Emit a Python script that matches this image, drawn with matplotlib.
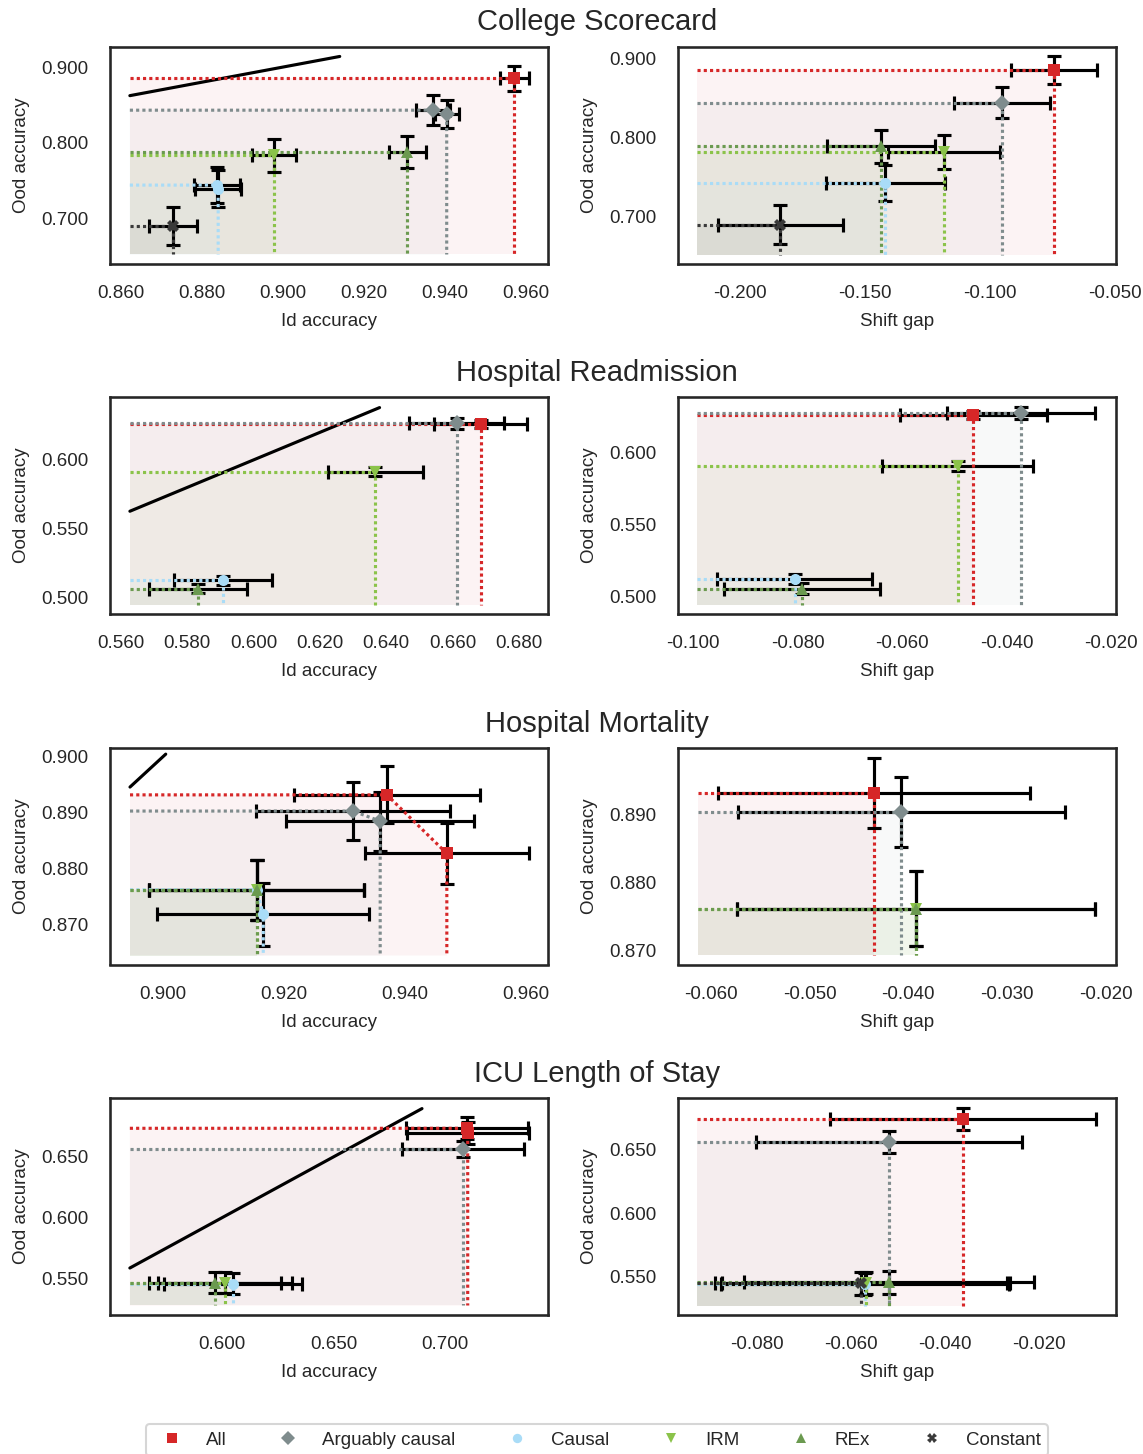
import matplotlib
matplotlib.use("Agg")
import matplotlib.pyplot as plt
from matplotlib.lines import Line2D
from matplotlib.ticker import FormatStrFormatter

plt.rcParams['font.family'] = ['Liberation Sans', 'DejaVu Sans']
plt.rcParams['font.size'] = 9

# ---------------- legend / method definitions ----------------
method_names = ["All", "Arguably causal", "Causal", "IRM", "REx", "Constant"]
method_colors = ["#d62728", "#7f8c8d", "#a9dcf7", "#8bc34a", "#6b9a50", "#3a3a3a"]
method_markers = ["s", "D", "o", "v", "^", "X"]

row_titles = ["College Scorecard", "Hospital Readmission", "Hospital Mortality", "ICU Length of Stay"]

# ---------------- College Scorecard ----------------
cs_id_method = ["All", "Arguably causal", "Arguably causal", "Causal", "Causal", "IRM", "REx", "Constant"]
cs_id_x = [0.9571, 0.9370, 0.9404, 0.8837, 0.8840, 0.8978, 0.9307, 0.8729]
cs_id_y = [0.8850, 0.8430, 0.8378, 0.7440, 0.7395, 0.7834, 0.7878, 0.6898]
cs_id_xerr = [0.0035, 0.0043, 0.0030, 0.0057, 0.0057, 0.0054, 0.0045, 0.0059]
cs_id_yerr = [0.0170, 0.0200, 0.0185, 0.0240, 0.0240, 0.0216, 0.0214, 0.0247]
cs_id_corner = [0.8622, 0.6523]
cs_id_diag = [0.8622, 0.9140]

cs_sg_method = ["All", "Arguably causal", "Causal", "IRM", "REx", "Constant"]
cs_sg_x = [-0.0744, -0.0953, -0.1420, -0.1184, -0.1437, -0.1840]
cs_sg_y = [0.8848, 0.8434, 0.7422, 0.7814, 0.7886, 0.6895]
cs_sg_xerr = [0.0171, 0.0193, 0.0238, 0.0225, 0.0217, 0.0250]
cs_sg_yerr = [0.0173, 0.0196, 0.0232, 0.0217, 0.0211, 0.0247]
cs_sg_corner = [-0.2171, 0.6515]

# ---------------- Hospital Readmission ----------------
hr_id_method = ["All", "Arguably causal", "Causal", "IRM", "REx"]
hr_id_x = [0.6685, 0.6613, 0.5907, 0.6367, 0.5833]
hr_id_y = [0.6262, 0.6268, 0.5125, 0.5915, 0.5065]
hr_id_xerr = [0.0141, 0.0143, 0.0148, 0.0144, 0.0148]
hr_id_yerr = [0.0030, 0.0040, 0.0035, 0.0035, 0.0035]
hr_id_corner = [0.5627, 0.4949]
hr_id_diag = [0.5627, 0.6380]

hr_sg_method = ["All", "Arguably causal", "Causal", "IRM", "REx"]
hr_sg_x = [-0.0464, -0.0373, -0.0806, -0.0494, -0.0792]
hr_sg_y = [0.6264, 0.6276, 0.5123, 0.5910, 0.5056]
hr_sg_xerr = [0.0141, 0.0142, 0.0148, 0.0145, 0.0149]
hr_sg_yerr = [0.0030, 0.0040, 0.0035, 0.0035, 0.0035]
hr_sg_corner = [-0.0992, 0.4944]

# ---------------- Hospital Mortality ----------------
hm_id_method = ["All", "All", "Arguably causal", "Arguably causal", "Causal", "Causal", "IRM", "REx"]
hm_id_x = [0.9370, 0.9469, 0.9314, 0.9359, 0.9155, 0.9166, 0.9155, 0.9155]
hm_id_y = [0.8932, 0.8827, 0.8903, 0.8885, 0.8762, 0.8718, 0.8762, 0.8762]
hm_id_xerr = [0.0154, 0.0135, 0.0160, 0.0155, 0.0177, 0.0175, 0.0177, 0.0177]
hm_id_yerr = [0.0051, 0.0055, 0.0052, 0.0053, 0.0054, 0.0056, 0.0054, 0.0054]
hm_id_corner = [0.8946, 0.8644]
hm_id_diag = [0.8946, 0.9005]

hm_sg_method = ["All", "Arguably causal", "IRM", "REx"]
hm_sg_x = [-0.0435, -0.0407, -0.0392, -0.0392]
hm_sg_y = [0.8931, 0.8903, 0.8761, 0.8761]
hm_sg_xerr = [0.0158, 0.0165, 0.0181, 0.0181]
hm_sg_yerr = [0.0052, 0.0052, 0.0055, 0.0055]
hm_sg_corner = [-0.0613, 0.8693]

# ---------------- ICU Length of Stay ----------------
icu_id_method = ["All", "All", "Arguably causal", "REx", "IRM", "Causal"]
icu_id_x = [0.7100, 0.7102, 0.7082, 0.5969, 0.6013, 0.6048]
icu_id_y = [0.6735, 0.6700, 0.6563, 0.5465, 0.5465, 0.5457]
icu_id_xerr = [0.0273, 0.0273, 0.0273, 0.0295, 0.0300, 0.0310]
icu_id_yerr = [0.0090, 0.0090, 0.0066, 0.0087, 0.0087, 0.0087]
icu_id_corner = [0.5587, 0.5279]
icu_id_diag = [0.5587, 0.6897]

icu_sg_method = ["All", "Arguably causal", "Causal", "IRM", "REx", "Constant"]
icu_sg_x = [-0.0362, -0.0519, -0.0570, -0.0568, -0.0519, -0.0579]
icu_sg_y = [0.6742, 0.6565, 0.5442, 0.5450, 0.5455, 0.5447]
icu_sg_xerr = [0.0283, 0.0283, 0.0307, 0.0307, 0.0309, 0.0310]
icu_sg_yerr = [0.0086, 0.0087, 0.0090, 0.0090, 0.0090, 0.0090]
icu_sg_corner = [-0.0927, 0.5272]

# ---------------- axis ticks ----------------
cs_id_xticks = [0.86, 0.88, 0.90, 0.92, 0.94, 0.96]
cs_id_yticks = [0.70, 0.80, 0.90]
cs_sg_xticks = [-0.20, -0.15, -0.10, -0.05]
cs_sg_yticks = [0.70, 0.80, 0.90]
hr_id_xticks = [0.56, 0.58, 0.60, 0.62, 0.64, 0.66, 0.68]
hr_id_yticks = [0.50, 0.55, 0.60]
hr_sg_xticks = [-0.10, -0.08, -0.06, -0.04, -0.02]
hr_sg_yticks = [0.50, 0.55, 0.60]
hm_id_xticks = [0.90, 0.92, 0.94, 0.96]
hm_id_yticks = [0.87, 0.88, 0.89, 0.90]
hm_sg_xticks = [-0.06, -0.05, -0.04, -0.03, -0.02]
hm_sg_yticks = [0.87, 0.88, 0.89]
icu_id_xticks = [0.60, 0.65, 0.70]
icu_id_yticks = [0.55, 0.60, 0.65]
icu_sg_xticks = [-0.08, -0.06, -0.04, -0.02]
icu_sg_yticks = [0.55, 0.60, 0.65]

# axis limits (view)
cs_id_lim = [(0.8573, 0.9654), (0.6404, 0.9265)]
cs_sg_lim = [(-0.2248, -0.0496), (0.6405, 0.9139)]
hr_id_lim = [(0.5567, 0.6888), (0.4884, 0.6457)]
hr_sg_lim = [(-0.1029, -0.0191), (0.4882, 0.6389)]
hm_id_lim = [(0.8913, 0.9636), (0.8628, 0.9016)]
hm_sg_lim = [(-0.0633, -0.0190), (0.8679, 0.8997)]
icu_id_lim = [(0.5498, 0.7462), (0.5205, 0.6984)]
icu_sg_lim = [(-0.0968, -0.0036), (0.5201, 0.6909)]

SPINE = "#262626"
W, H = 1143, 1454
fig = plt.figure(figsize=(W / 150, H / 150), dpi=150)


def draw_panel(ax, methods, xs, ys, xerrs, yerrs, corner, diag, lims, xticks, yticks, xlabel):
    cx, cy = corner
    for name, col, mk in zip(method_names, method_colors, method_markers):
        idx = [i for i, m in enumerate(methods) if m == name]
        if not idx:
            continue
        idx.sort(key=lambda i: xs[i])
        px = [xs[i] for i in idx]
        py = [ys[i] for i in idx]
        lx = [cx] + px + [px[-1]]
        ly = [py[0]] + py + [cy]
        ax.fill([cx] + lx, [cy] + ly, color=col, alpha=0.05, lw=0, zorder=1)
        ax.errorbar(px, py, xerr=[xerrs[i] for i in idx], yerr=[yerrs[i] for i in idx],
                    fmt='none', ecolor='black', elinewidth=1.5, capsize=3.5, capthick=1.5, zorder=3)
        ax.plot(lx, ly, linestyle=(0, (1, 1)), color=col, lw=1.5, zorder=4)
        ax.plot(px, py, linestyle='none', marker=mk, color=col, ms=5.3, mew=0, zorder=5)
    if diag is not None:
        ax.plot(diag, diag, color='black', lw=1.5, zorder=3.5, solid_capstyle='round')
    ax.set_xlim(*lims[0])
    ax.set_ylim(*lims[1])
    ax.set_xticks(xticks)
    ax.set_yticks(yticks)
    ax.xaxis.set_major_formatter(FormatStrFormatter('%.3f'))
    ax.yaxis.set_major_formatter(FormatStrFormatter('%.3f'))
    ax.tick_params(axis='both', length=0, pad=10.5, labelsize=9, labelcolor=SPINE)
    for s in ax.spines.values():
        s.set_color(SPINE)
        s.set_linewidth(1.25)
    ax.set_xlabel(xlabel, color=SPINE, labelpad=5)
    ax.set_ylabel("Ood accuracy", color=SPINE, labelpad=5)


rows = [
    ((cs_id_method, cs_id_x, cs_id_y, cs_id_xerr, cs_id_yerr, cs_id_corner, cs_id_diag, cs_id_lim, cs_id_xticks, cs_id_yticks),
     (cs_sg_method, cs_sg_x, cs_sg_y, cs_sg_xerr, cs_sg_yerr, cs_sg_corner, None, cs_sg_lim, cs_sg_xticks, cs_sg_yticks)),
    ((hr_id_method, hr_id_x, hr_id_y, hr_id_xerr, hr_id_yerr, hr_id_corner, hr_id_diag, hr_id_lim, hr_id_xticks, hr_id_yticks),
     (hr_sg_method, hr_sg_x, hr_sg_y, hr_sg_xerr, hr_sg_yerr, hr_sg_corner, None, hr_sg_lim, hr_sg_xticks, hr_sg_yticks)),
    ((hm_id_method, hm_id_x, hm_id_y, hm_id_xerr, hm_id_yerr, hm_id_corner, hm_id_diag, hm_id_lim, hm_id_xticks, hm_id_yticks),
     (hm_sg_method, hm_sg_x, hm_sg_y, hm_sg_xerr, hm_sg_yerr, hm_sg_corner, None, hm_sg_lim, hm_sg_xticks, hm_sg_yticks)),
    ((icu_id_method, icu_id_x, icu_id_y, icu_id_xerr, icu_id_yerr, icu_id_corner, icu_id_diag, icu_id_lim, icu_id_xticks, icu_id_yticks),
     (icu_sg_method, icu_sg_x, icu_sg_y, icu_sg_xerr, icu_sg_yerr, icu_sg_corner, None, icu_sg_lim, icu_sg_xticks, icu_sg_yticks)),
]

row_tops = [47, 397, 748, 1098]
title_baselines = [30, 381, 732, 1082]
col_lefts = [110, 678]
ax_w, ax_h = 438, 216.5

for r, (left_args, right_args) in enumerate(rows):
    for c, args in enumerate([left_args, right_args]):
        ax = fig.add_axes([col_lefts[c] / W, 1 - (row_tops[r] + ax_h) / H, ax_w / W, ax_h / H])
        draw_panel(ax, *args, xlabel="Id accuracy" if c == 0 else "Shift gap")
    fig.text(597 / W, 1 - title_baselines[r] / H, row_titles[r], ha='center', va='baseline',
             fontsize=14, color=SPINE)

handles = [Line2D([], [], linestyle='none', marker=mk, color=col, ms=4.5, mew=0)
           for col, mk in zip(method_colors, method_markers)]
leg = fig.legend(handles, method_names, loc='upper center', bbox_to_anchor=(597 / W, 1 - 1424 / H),
                 ncol=6, frameon=True, borderaxespad=0, fontsize=9, fancybox=True,
                 columnspacing=2.3)
leg.get_frame().set_edgecolor('#cccccc')
for t in leg.get_texts():
    t.set_color(SPINE)

fig.savefig("out.png", dpi=150)
